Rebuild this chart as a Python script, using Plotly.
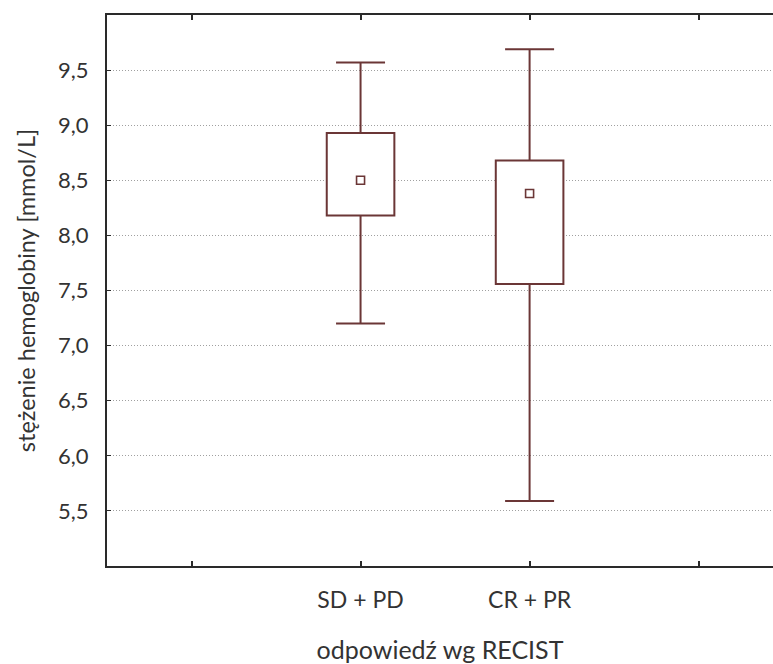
import plotly.graph_objects as go

categories = ["SD + PD", "CR + PR"]
cat_pos = [1, 2]
medians = [8.50, 8.38]
q1 = [8.18, 7.56]
q3 = [8.93, 8.68]
minimum = [7.20, 5.59]
maximum = [9.57, 9.69]

tick_vals_y = [5.5, 6.0, 6.5, 7.0, 7.5, 8.0, 8.5, 9.0, 9.5]
line_col = "#6b3636"
axis_col = "#2a2a2a"
font_fam = "Lato, 'Open Sans', sans-serif"

fig = go.Figure()
# box body (Q1..Q3)
fig.add_trace(go.Bar(
    x=cat_pos, y=[b - a for a, b in zip(q1, q3)], base=q1, width=0.4,
    marker=dict(color="white", line=dict(color=line_col, width=2)),
    showlegend=False, hoverinfo="skip",
))
# whiskers
wx, wy = [], []
for i in range(len(cat_pos)):
    wx += [cat_pos[i], cat_pos[i], None, cat_pos[i], cat_pos[i], None]
    wy += [q3[i], maximum[i], None, q1[i], minimum[i], None]
fig.add_trace(go.Scatter(x=wx, y=wy, mode="lines", line=dict(color=line_col, width=2),
                         showlegend=False, hoverinfo="skip"))
# whisker caps
fig.add_trace(go.Scatter(
    x=cat_pos + cat_pos, y=minimum + maximum, mode="markers",
    marker=dict(symbol="line-ew", size=35, line=dict(color=line_col, width=2)),
    showlegend=False, hoverinfo="skip",
))
# median markers
fig.add_trace(go.Scatter(
    x=cat_pos, y=medians, mode="markers",
    marker=dict(symbol="square-open", size=8, color=line_col, line=dict(width=1.6, color=line_col)),
    showlegend=False,
))

fig.update_layout(
    width=773, height=664,
    margin=dict(l=107, r=0, t=15, b=98),
    paper_bgcolor="white", plot_bgcolor="white",
    separators=", ",
    font=dict(family=font_fam, size=22, color="#333333"),
    xaxis=dict(
        range=[-0.5, 3.44], tickvals=[0, 1, 2, 3], ticktext=["", categories[0], categories[1], ""],
        showline=True, linecolor=axis_col, linewidth=2, mirror="ticks",
        ticks="inside", ticklen=5, tickcolor=axis_col, tickwidth=1.5,
        showgrid=False, zeroline=False, ticklabelstandoff=12,
        tickfont=dict(size=23),
        title=dict(text="odpowiedź wg RECIST", standoff=30, font=dict(size=25)),
    ),
    yaxis=dict(
        range=[5.0, 10.0], tickvals=tick_vals_y, tickformat=".1f",
        showline=True, linecolor=axis_col, linewidth=2, mirror=False,
        ticks="inside", ticklen=4, tickcolor=axis_col, tickwidth=1.2,
        showgrid=True, gridcolor="#a0a0a0", griddash="1px,2px", gridwidth=1,
        zeroline=False, ticklabelstandoff=12,
        tickfont=dict(size=22),
        title=dict(text="stężenie hemoglobiny [mmol/L]", standoff=16, font=dict(size=23.5)),
    ),
)
fig.write_html("out.html")
